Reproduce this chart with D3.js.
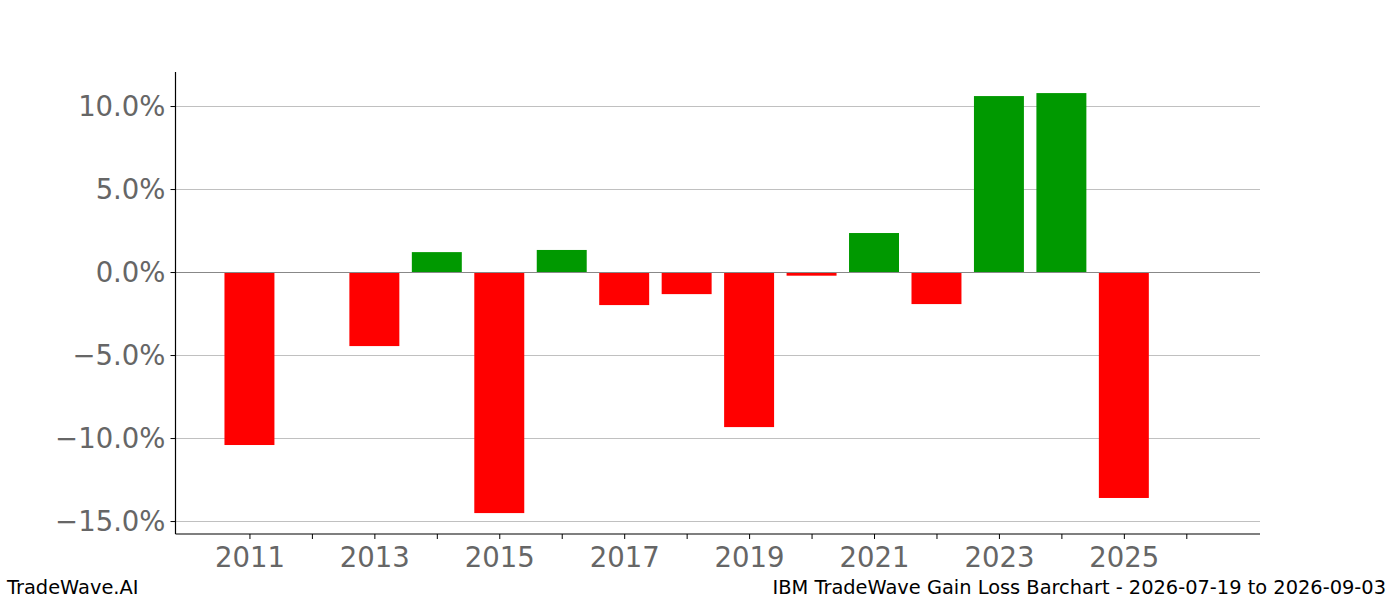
<!DOCTYPE html>
<html><head><meta charset="utf-8">
<script src="https://cdn.jsdelivr.net/npm/d3@7"></script>
<style>body{margin:0;background:#fff;}svg{display:block;font-family:"DejaVu Sans",sans-serif;}</style>
</head><body><svg id="c" width="1400" height="600"></svg>
<script>
const years = [2011, 2013, 2014, 2015, 2016, 2017, 2018, 2019, 2020, 2021, 2022, 2023, 2024, 2025];
const values = [-10.42, -4.46, 1.20, -14.52, 1.33, -1.99, -1.33, -9.34, -0.22, 2.35, -1.93, 10.6, 10.78, -13.61];
const yTicks = [-15, -10, -5, 0, 5, 10];
const xTickYears = [2011, 2012, 2013, 2014, 2015, 2016, 2017, 2018, 2019, 2020, 2021, 2022, 2023, 2024, 2025, 2026];
const xLabelYears = [2011, 2013, 2015, 2017, 2019, 2021, 2023, 2025];
const footerLeft = "TradeWave.AI";
const footerRight = "IBM TradeWave Gain Loss Barchart - 2026-07-19 to 2026-09-03";

const svg = d3.select("#c");
const L = 175.5, R = 1260, T = 72, B = 534;
const x = d3.scaleLinear().domain([2009.816, 2027.18]).range([L, R]);
const y = d3.scaleLinear().domain([-15.78, 12.05]).range([B, T]);
const bw = x(2011.4) - x(2010.6);

// grid
svg.append("g").selectAll("line").data(yTicks).join("line")
  .attr("x1", L).attr("x2", R).attr("y1", d => Math.round(y(d)) + 0.5).attr("y2", d => Math.round(y(d)) + 0.5)
  .attr("stroke", "#c0c0c0").attr("stroke-width", 1).attr("shape-rendering", "crispEdges");

// bars
svg.append("g").selectAll("rect").data(years.map((yr, i) => ({yr, v: values[i]}))).join("rect")
  .attr("x", d => x(d.yr) - bw / 2).attr("width", bw)
  .attr("y", d => y(Math.max(0, d.v))).attr("height", d => Math.abs(y(d.v) - y(0)))
  .attr("fill", d => d.v >= 0 ? "#009900" : "#ff0000");

// zero line
svg.append("line").attr("x1", L).attr("x2", R).attr("y1", Math.round(y(0)) + 0.5).attr("y2", Math.round(y(0)) + 0.5)
  .attr("stroke", "#888").attr("stroke-width", 1).attr("shape-rendering", "crispEdges");

// axes
const fmt = d => (d < 0 ? "\u2212" : "") + Math.abs(d).toFixed(1) + "%";
const yAxis = d3.axisLeft(y).tickValues(yTicks).tickFormat(fmt).tickSize(5).tickPadding(5);
const gy = svg.append("g").attr("transform", `translate(${L},0)`).call(yAxis);
gy.select(".domain").attr("d", `M0,${T}V${B}`).attr("stroke", "#000").attr("stroke-width", 1.2);
gy.selectAll(".tick line").attr("stroke", "#000");
gy.selectAll("text").attr("font-size", 27.5).attr("fill", "#666").attr("font-family", "DejaVu Sans").attr("dy", "0.36em");

const xAxis = d3.axisBottom(x).tickValues(xTickYears)
  .tickFormat(d => xLabelYears.includes(d) ? String(d) : "").tickSize(5).tickPadding(8);
const gx = svg.append("g").attr("transform", `translate(0,${B})`).call(xAxis);
gx.select(".domain").attr("d", `M${L},0H${R}`).attr("stroke", "#000").attr("stroke-width", 1.2);
gx.selectAll(".tick line").attr("stroke", "#000");
gx.selectAll("text").attr("font-size", 27.5).attr("fill", "#666").attr("font-family", "DejaVu Sans");

svg.append("text").attr("x", 7).attr("y", 594).attr("font-size", 19.4).attr("fill", "#000").text(footerLeft);
svg.append("text").attr("x", 1386).attr("y", 594).attr("text-anchor", "end").attr("font-size", 19.4).attr("fill", "#000").text(footerRight);
</script></body></html>
